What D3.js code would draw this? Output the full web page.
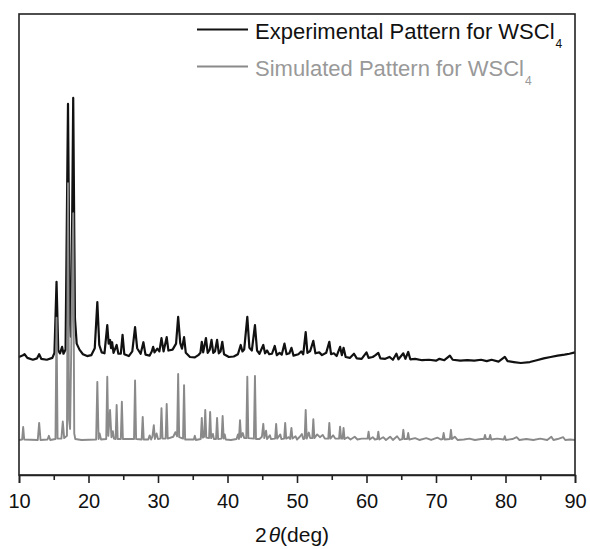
<!DOCTYPE html>
<html>
<head>
<meta charset="utf-8">
<script src="https://cdnjs.cloudflare.com/ajax/libs/d3/7.8.5/d3.min.js"></script>
<style>
  body { margin: 0; background: #fff; }
  text { font-family: "Liberation Sans", Arial, sans-serif; }
</style>
</head>
<body>
<div id="vis"></div>
<script>
// Chart size
let width = 590,
    height = 549;

let margin = {
  top: 14,
  bottom: 74,
  left: 19,
  right: 15
};

// Tick labels on the 2theta axis
let majorTicks = [10, 20, 30, 40, 50, 60, 70, 80, 90];
let minorTicks = [15, 25, 35, 45, 55, 65, 75, 85];

// Experimental pattern (2theta, offset intensity, arb. units)
let expTheta = [10.0, 10.5, 10.8, 11.2, 12.0, 12.6, 12.9, 13.2, 14.0, 14.8, 15.1, 15.4, 15.65, 15.9, 16.2, 16.4, 16.7,
  17.05, 17.3, 17.45, 17.55, 17.8, 18.05, 18.3, 18.7, 19.2, 19.8, 20.4, 20.9, 21.27, 21.55, 21.9, 22.3, 22.7, 22.9,
  23.1, 23.25, 23.4, 23.6, 24.05, 24.3, 24.65, 24.9, 25.15, 25.8, 26.3, 26.7, 27.0, 27.5, 27.9, 28.2, 28.8, 29.1,
  29.3, 29.5, 29.9, 30.2, 30.5, 30.8, 31.25, 31.5, 32.1, 32.6, 32.9, 33.2, 33.45, 33.75, 34.0, 34.6, 35.3, 35.8,
  36.1, 36.3, 36.5, 36.9, 37.15, 37.45, 37.7, 37.95, 38.2, 38.5, 38.75, 39.0, 39.25, 39.5, 40.2, 40.9, 41.5, 41.9,
  42.15, 42.4, 42.85, 43.15, 43.5, 43.95, 44.25, 44.6, 45.15, 45.4, 45.7, 46.0, 46.4, 46.8, 47.1, 47.5, 47.8, 48.2,
  48.5, 48.9, 49.2, 49.5, 50.2, 50.6, 50.9, 51.25, 51.5, 51.9, 52.35, 52.65, 53.2, 53.6, 54.2, 54.65, 54.9, 55.3,
  55.7, 56.2, 56.45, 56.7, 57.0, 57.6, 58.2, 58.6, 59.3, 60.0, 60.3, 60.9, 61.3, 61.7, 62.0, 62.7, 63.3, 63.8, 64.3,
  64.6, 65.3, 65.6, 66.0, 66.3, 67.0, 68.0, 69.0, 70.0, 70.5, 71.2, 72.0, 72.4, 73.5, 74.5, 75.5, 76.5, 77.3, 78.0,
  79.0, 79.9, 80.3, 81.2, 82.2, 83.5, 84.5, 85.5, 86.5, 87.5, 88.5, 89.2, 90.0];
let expInt = [25.6, 25.9, 26.2, 25.4, 25.0, 25.3, 26.2, 25.2, 25.0, 25.4, 26.5, 41.9, 27.0, 26.4, 27.8, 26.3, 27.2,
  80.5, 34.0, 30.0, 38.0, 81.8, 34.0, 28.5, 27.2, 26.2, 25.8, 26.0, 27.5, 37.5, 28.2, 26.6, 26.4, 32.5, 28.5,
  29.3, 27.5, 28.8, 26.5, 28.2, 26.3, 26.3, 30.4, 26.2, 25.8, 26.8, 32.1, 27.5, 26.3, 28.8, 26.1, 25.9, 26.8,
  27.8, 26.6, 27.4, 26.8, 29.7, 26.8, 29.9, 27.0, 27.2, 28.5, 34.3, 28.6, 27.4, 29.9, 26.5, 25.6, 25.5, 26.0,
  26.5, 28.9, 26.6, 29.7, 26.5, 27.2, 29.3, 26.5, 26.8, 29.3, 26.4, 26.8, 28.9, 26.2, 25.6, 25.7, 26.2, 28.2,
  26.8, 27.2, 34.3, 27.6, 27.0, 32.5, 27.0, 26.3, 28.2, 26.4, 27.0, 26.2, 26.3, 28.0, 26.0, 26.5, 26.1, 28.5,
  26.2, 26.4, 27.6, 25.9, 26.2, 26.8, 26.2, 31.0, 26.5, 26.9, 29.1, 26.4, 26.6, 26.0, 26.5, 28.9, 26.2, 26.4,
  25.8, 27.8, 26.0, 27.6, 25.6, 25.4, 26.3, 25.3, 25.2, 26.6, 25.4, 25.6, 26.0, 26.5, 25.3, 25.2, 25.6, 25.0, 26.3,
  25.1, 26.4, 25.2, 26.7, 25.1, 25.2, 24.9, 25.0, 24.8, 25.2, 24.9, 25.9, 25.0, 24.8, 24.9, 24.8, 25.0, 24.7, 25.0,
  24.6, 25.6, 24.7, 24.5, 24.3, 24.5, 24.9, 25.3, 25.6, 25.9, 26.1, 26.3, 26.6];

// Simulated pattern (2theta, offset intensity, arb. units)
let simTheta = [10.0, 10.45, 10.6, 10.75, 12.7, 12.9, 13.1, 14.1, 14.3, 14.5, 15.25, 15.4, 15.55, 16.1, 16.3, 16.5,
  16.9, 17.05, 17.2, 17.35, 17.8, 17.95, 18.1, 19.0, 21.1, 21.27, 21.45, 21.6, 21.8, 22.55, 22.7, 22.85, 23.1, 23.3,
  23.5, 23.65, 23.9, 24.05, 24.2, 24.65, 24.8, 24.95, 26.55, 26.7, 26.85, 27.65, 27.8, 27.95, 28.6, 28.8, 29.0,
  29.2, 29.4, 29.55, 29.8, 30.0, 30.35, 30.5, 30.65, 31.1, 31.25, 31.4, 32.2, 32.5, 32.75, 32.9, 33.05, 33.6, 33.75,
  33.9, 35.15, 35.3, 35.45, 36.15, 36.3, 36.45, 36.65, 36.8, 36.95, 37.35, 37.5, 37.65, 37.9, 38.05, 38.35, 38.5,
  38.65, 39.15, 39.3, 39.45, 39.6, 39.75, 40.5, 41.3, 41.5, 41.65, 41.8, 41.95, 42.2, 42.4, 42.7, 42.85, 43.0, 43.8,
  43.95, 44.1, 44.6, 44.95, 45.15, 45.3, 45.55, 45.7, 46.1, 46.25, 46.85, 47.0, 47.15, 47.6, 47.75, 48.15, 48.3,
  48.45, 48.8, 49.0, 49.2, 49.35, 49.8, 50.0, 50.4, 50.7, 50.9, 51.1, 51.25, 51.4, 51.7, 51.9, 52.2, 52.35, 52.5,
  52.9, 53.3, 53.7, 54.0, 54.5, 54.65, 54.8, 55.2, 55.5, 56.05, 56.2, 56.35, 56.55, 56.7, 56.85, 57.3, 57.7, 58.3,
  58.7, 59.3, 60.15, 60.3, 60.45, 60.9, 61.2, 61.55, 61.7, 61.85, 62.4, 62.8, 63.4, 63.8, 64.4, 64.8, 65.15, 65.3,
  65.45, 65.85, 66.0, 66.15, 67.0, 67.6, 68.6, 69.3, 70.2, 70.7, 70.95, 71.1, 71.25, 72.0, 72.15, 72.3, 72.7, 73.1,
  74.0, 74.8, 75.6, 76.5, 76.9, 77.05, 77.2, 77.65, 77.8, 77.95, 78.8, 79.75, 79.9, 80.05, 81.0, 81.6, 82.0, 83.0,
  84.0, 85.0, 86.0, 86.6, 86.9, 87.5, 88.3, 88.6, 89.3, 90.0];
let simInt = [7.6, 7.7, 10.4, 7.7, 7.6, 11.3, 7.6, 7.7, 8.5, 7.6, 7.8, 34.1, 7.9, 7.9, 11.6, 8.0,
  8.5, 63.3, 12.0, 10.0, 56.8, 9.0, 7.8, 7.6, 7.7, 20.2, 7.8, 9.0, 7.7, 7.8, 21.3, 8.5, 14.1, 8.2,
  9.5, 7.9, 7.8, 15.2, 7.8, 7.8, 15.9, 7.8, 7.8, 20.5, 7.8, 7.7, 12.6, 7.7, 7.7, 8.6, 7.7,
  8.4, 10.8, 7.8, 9.0, 7.8, 7.9, 14.5, 7.9, 7.9, 15.4, 7.9, 8.3, 9.3, 8.4, 21.9, 8.2, 7.9, 19.5,
  7.7, 7.7, 8.5, 7.6, 7.8, 12.4, 8.1, 8.3, 14.1, 8.1, 8.0, 13.7, 8.0, 8.9, 7.8, 7.8, 12.4,
  7.8, 7.9, 12.8, 7.9, 8.8, 7.7, 7.6, 7.8, 8.8, 7.8, 11.9, 8.2, 9.1, 8.0, 8.0, 21.3, 8.0, 7.9,
  21.5, 7.8, 7.8, 8.3, 11.1, 8.0, 9.6, 7.8, 8.6, 7.8, 7.9, 11.1, 7.9, 8.8, 7.8, 7.9, 11.3,
  7.9, 8.2, 7.8, 10.2, 7.9, 8.4, 7.7, 8.3, 8.9, 7.8, 7.9, 14.1, 7.9, 9.2, 8.0, 8.0, 12.1, 8.0,
  8.8, 8.2, 8.7, 7.9, 7.9, 11.3, 7.9, 8.6, 7.9, 7.9, 10.5, 7.9, 7.9, 10.2, 7.8, 8.2, 7.7, 8.3,
  7.7, 7.9, 7.9, 9.4, 7.7, 8.2, 7.7, 7.8, 9.4, 7.7, 8.2, 7.6, 8.3, 7.6, 8.4, 7.6, 7.8, 9.8,
  7.8, 7.8, 9.1, 7.7, 8.0, 7.6, 8.0, 7.6, 8.1, 7.7, 7.8, 9.1, 7.7, 7.8, 9.8, 7.8, 8.3, 7.6,
  7.7, 7.9, 7.6, 7.8, 7.8, 8.7, 7.8, 7.8, 8.7, 7.7, 7.9, 7.7, 8.4, 7.6, 7.8, 8.2, 7.6, 7.8,
  7.6, 7.9, 7.6, 8.3, 7.6, 7.8, 8.2, 7.6, 7.7, 7.6];

let series = [
  { name: 'Experimental Pattern for WSCl', theta: expTheta, intensity: expInt, color: '#111', lw: 2.2 },
  { name: 'Simulated Pattern for WSCl', theta: simTheta, intensity: simInt, color: '#8a8a8a', lw: 1.9 }
];

// Create SVG
let svg = d3.select('#vis')
            .append('svg')
            .attr('width', width)
            .attr('height', height)
            .style('background', '#fff');

// Scales
let xScale = d3.scaleLinear()
    .domain([10, 90])
    .range([margin.left, width - margin.right]);

let yScale = d3.scaleLinear()
    .domain([0, 100])
    .range([height - margin.bottom, margin.top]);

// Pattern lines
let line = d3.line()
    .x(d => xScale(d[0]))
    .y(d => yScale(d[1]));

series.forEach(s => {
  let pts = s.theta.map((t, i) => [t, s.intensity[i]]);
  svg.append('path')
      .datum(pts)
      .attr('d', line)
      .attr('fill', 'none')
      .attr('stroke', s.color)
      .attr('stroke-width', s.lw)
      .attr('stroke-linejoin', 'round');
});

// Frame
svg.append('rect')
    .attr('x', margin.left)
    .attr('y', margin.top)
    .attr('width', width - margin.left - margin.right)
    .attr('height', height - margin.top - margin.bottom)
    .attr('fill', 'none')
    .attr('stroke', '#222')
    .attr('stroke-width', 1.6);

// X axis: major and minor ticks
let xAxis = svg.append('g')
    .attr('transform', `translate(0, ${height - margin.bottom})`)
    .call(d3.axisBottom(xScale).tickValues(majorTicks).tickSize(8).tickPadding(11).tickFormat(d3.format('d')));

xAxis.select('.domain').attr('stroke', '#222').attr('stroke-width', 1.6);
xAxis.selectAll('.tick line').attr('stroke', '#222').attr('stroke-width', 1.6);
xAxis.selectAll('text')
    .style('font-family', '"Liberation Sans", Arial, sans-serif')
    .style('font-size', '20px')
    .attr('fill', '#111');

let xMinor = svg.append('g')
    .attr('transform', `translate(0, ${height - margin.bottom})`)
    .call(d3.axisBottom(xScale).tickValues(minorTicks).tickSize(5).tickFormat(''));

xMinor.select('.domain').remove();
xMinor.selectAll('.tick line').attr('stroke', '#222').attr('stroke-width', 1.6);

// X axis label: 2θ(deg)
let xLabel = svg.append('text')
    .attr('x', 292)
    .attr('y', 542)
    .style('text-anchor', 'middle')
    .style('font-size', '21px')
    .attr('fill', '#111');
xLabel.append('tspan').text('2');
xLabel.append('tspan').text('θ').style('font-style', 'italic').attr('dx', 2);
xLabel.append('tspan').text('(deg)');

// Legend
let legend = svg.append('g');
series.forEach((s, i) => {
  let ly = 29.5 + i * 37;
  legend.append('line')
      .attr('x1', 197)
      .attr('x2', 248)
      .attr('y1', ly)
      .attr('y2', ly)
      .attr('stroke', s.color)
      .attr('stroke-width', 1.8);
  let t = legend.append('text')
      .attr('x', 255)
      .attr('y', ly + 9)
      .style('font-size', '22px')
      .attr('fill', i === 0 ? '#111' : '#999');
  t.append('tspan').text(s.name);
  t.append('tspan').text('4').attr('dx', 1).attr('dy', 9).style('font-size', '12px');
});
</script>
</body>
</html>
